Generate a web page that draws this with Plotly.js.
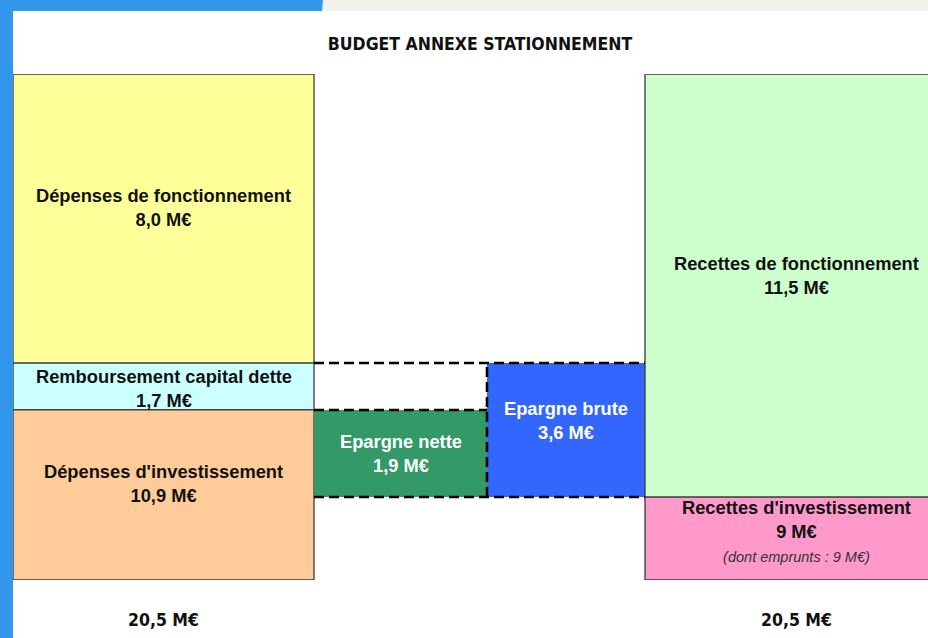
<!DOCTYPE html>
<html>
<head>
<meta charset="utf-8">
<script src="https://cdn.plot.ly/plotly-3.0.1.min.js"></script>
<style>
  html, body { margin: 0; padding: 0; width: 928px; height: 638px; overflow: hidden; background: #ffffff; }
  #frameLeft { position: absolute; left: 0; top: 0; width: 13px; height: 638px; background: #3297ea; }
  #frameTopBlue { position: absolute; left: 0; top: 0; width: 323px; height: 11px; background: #3297ea; }
  #frameTopGrey { position: absolute; left: 322px; top: 0; width: 606px; height: 11px; background: #f2f0eb;
                  clip-path: polygon(1px 0, 100% 0, 100% 100%, 0 100%); }
  #chart { position: absolute; left: 0; top: 0; width: 928px; height: 638px; }
</style>
</head>
<body>
<div id="frameLeft"></div>
<div id="frameTopBlue"></div>
<div id="frameTopGrey"></div>
<div id="chart"></div>
<script>
// ---------------- DATA ----------------
const titleText = "BUDGET ANNEXE STATIONNEMENT";
const labels = [
  "Dépenses de fonctionnement",
  "Remboursement capital dette",
  "Dépenses d'investissement",
  "Epargne nette",
  "Epargne brute",
  "Recettes de fonctionnement",
  "Recettes d'investissement"
];
// amounts as printed on the blocks (M€)
const amounts = [8.0, 1.7, 10.9, 1.9, 3.6, 11.5, 9];
// block heights as drawn in the picture (scale where each full column = 20.5)
const drawnHeights = [11.71, 1.90, 6.89, 3.53, 5.43, 17.14, 3.36];
// which column each block belongs to: 0 = dépenses, 1 = épargne nette, 2 = épargne brute, 3 = recettes
const column = [0, 0, 0, 1, 2, 3, 3];
const subNotes = ["", "", "", "", "", "", "(dont emprunts : 9 M€)"];
const totals = [20.5, 20.5];
const totalColumns = [0, 3];

// ---------------- LAYOUT / STYLE ----------------
const colLeft  = [0, 301, 474, 632];
const colRight = [301, 474, 632, 934];
const colors = ["#ffff99", "#ccffff", "#ffcc99", "#339966", "#3366ff", "#ccffcc", "#ff99cc"];
const textColors = ["#111", "#111", "#111", "#ffffff", "#ffffff", "#111", "#111"];
const outlined = [1, 1, 1, 0, 0, 1, 1];
const labelShift = [11, -2, 11, 0, 10, 10, 8];

function fmt(v) {
  return (Number.isInteger(v) && v === 9 ? String(v) : v.toFixed(1).replace(".", ",")) + " M€";
}

// bases: left/right columns stack bottom-up; épargne sits on top of recettes d'investissement
const bases = new Array(labels.length).fill(0);
bases[2] = 0;
bases[1] = bases[2] + drawnHeights[2];
bases[0] = bases[1] + drawnHeights[1];
bases[6] = 0;
bases[5] = bases[6] + drawnHeights[6];
bases[3] = drawnHeights[6];
bases[4] = drawnHeights[6];

const xs = column.map(c => (colLeft[c] + colRight[c]) / 2);
const ws = column.map(c => colRight[c] - colLeft[c]);

const barTrace = {
  type: "bar",
  x: xs,
  y: drawnHeights,
  base: bases,
  width: ws,
  marker: {
    color: colors,
    line: { color: outlined.map(o => o ? "#3a3a3a" : "rgba(0,0,0,0)"), width: outlined.map(o => o ? 1.3 : 0) }
  },
  hoverinfo: "skip",
  showlegend: false
};

const annotations = [];
labels.forEach((lab, i) => {
  let txt = "<b>" + lab + "<br>" + fmt(amounts[i]) + "</b>";
  if (subNotes[i]) txt += "<br><i><span style='font-size:14.5px;font-weight:normal;color:#333'>" + subNotes[i] + "</span></i>";
  annotations.push({
    x: xs[i], y: bases[i] + drawnHeights[i] / 2, xref: "x", yref: "y",
    text: txt, showarrow: false, yshift: labelShift[i],
    font: { family: "Liberation Sans, Arial, sans-serif", size: 18.3, color: textColors[i] },
    align: "center"
  });
});
totals.forEach((t, k) => {
  const c = totalColumns[k];
  annotations.push({
    x: (colLeft[c] + Math.min(colRight[c], 934)) / 2, y: 0, xref: "x", yref: "paper",
    yanchor: "middle", yshift: -40,
    text: "<b>" + t.toFixed(1).replace(".", ",") + " M€</b>", showarrow: false,
    font: { family: "DejaVu Sans Condensed, DejaVu Sans, sans-serif", size: 17.5, color: "#111" }
  });
});

// dashed outlines of the épargne blocks
const dash = { color: "#000", width: 2.6, dash: "10px,5px" };
const topBrute = bases[4] + drawnHeights[4];
const topNette = bases[3] + drawnHeights[3];
const shapes = [
  { type: "line", xref: "x", yref: "y", x0: colLeft[1], x1: colRight[2], y0: topBrute, y1: topBrute, line: dash },
  { type: "line", xref: "x", yref: "y", x0: colLeft[1], x1: colRight[1], y0: topNette, y1: topNette, line: dash },
  { type: "line", xref: "x", yref: "y", x0: colLeft[1], x1: colRight[2], y0: bases[3], y1: bases[3], line: dash },
  { type: "line", xref: "x", yref: "y", x0: colRight[1], x1: colRight[1], y0: bases[4], y1: topBrute, line: dash }
];

const layout = {
  width: 928, height: 638,
  margin: { l: 13, r: 0, t: 74, b: 58 },
  paper_bgcolor: "rgba(0,0,0,0)",
  plot_bgcolor: "rgba(0,0,0,0)",
  title: {
    text: "<b>" + titleText + "</b>", xref: "container", yref: "container",
    x: 480 / 928, y: 1 - 44 / 638, xanchor: "center", yanchor: "middle",
    font: { family: "DejaVu Sans Condensed, DejaVu Sans, sans-serif", size: 17.5, color: "#111" }
  },
  xaxis: { range: [0, 915], visible: false, fixedrange: true },
  yaxis: { range: [0, 20.5], visible: false, fixedrange: true },
  bargap: 0,
  showlegend: false,
  annotations: annotations,
  shapes: shapes
};

Plotly.newPlot("chart", [barTrace], layout, { displayModeBar: false, staticPlot: true });
</script>
</body>
</html>
